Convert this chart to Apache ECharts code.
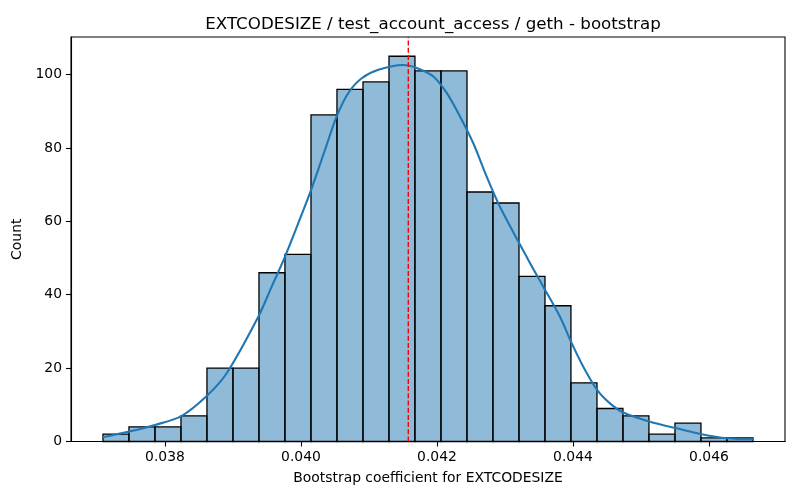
<!DOCTYPE html>
<html>
<head>
<meta charset="utf-8">
<script src="https://cdn.jsdelivr.net/npm/echarts@6/dist/echarts.min.js"></script>
<style>
html,body{margin:0;padding:0;background:#fff;}
#chart{width:800px;height:500px;}
</style>
</head>
<body>
<div id="chart"></div>
<script>
// Histogram bin edges (25 bins)
const binEdges = [0.037088,0.037470,0.037853,0.038235,0.038617,0.039000,0.039382,0.039764,
  0.040147,0.040529,0.040912,0.041294,0.041676,0.042059,0.042441,0.042823,0.043206,0.043588,
  0.043970,0.044353,0.044735,0.045117,0.045500,0.045882,0.046264,0.046647];
// Counts per bin
const counts = [2,4,4,7,20,20,46,51,89,96,98,105,101,101,68,65,45,37,16,9,7,2,5,1,1];
// KDE curve (x, count-scaled density)
const kdeX = [0.037084,0.037475,0.037853,0.038246,0.038613,0.038907,0.039372,0.039569,0.039765,
  0.039960,0.040157,0.040353,0.040525,0.040696,0.040893,0.041137,0.041504,0.041701,0.041946,
  0.042143,0.042338,0.042534,0.042731,0.042926,0.043343,0.043563,0.043809,0.043981,0.044151,
  0.044357,0.044544,0.044740,0.045132,0.045525,0.045893,0.046260,0.046651];
const kdeY = [1.15,2.7,4.5,7.0,12.4,18.6,34.0,42.2,50.4,
  59.5,69.0,79.5,88.6,95.0,99.0,101.3,102.6,101.8,99.5,
  95,88.6,81.3,72.2,64,49.5,42.2,34,26.8,20.4,
  14,10.4,7.9,5.4,3.6,2.0,0.9,0.6];
// Reference (point estimate) line
const refValue = 0.041578;
// Axis ticks
const xTicks = [0.038,0.040,0.042,0.044,0.046];
const yTicks = [0,20,40,60,80,100];
const xRange = [0.0366176, 0.047118];
const yRange = [0, 110.25];
const titleText = 'EXTCODESIZE / test_account_access / geth - bootstrap';
const xLabel = 'Bootstrap coefficient for EXTCODESIZE';
const yLabel = 'Count';

const histData = counts.map((c, i) => [binEdges[i], binEdges[i + 1], c]);
const kdeData = kdeX.map((x, i) => [x, kdeY[i]]);

const font = 'DejaVu Sans';
const chart = echarts.init(document.getElementById('chart'), null, {renderer: 'canvas'});
chart.setOption({
  animation: false,
  backgroundColor: '#ffffff',
  title: {
    text: titleText,
    left: 428,
    textAlign: 'center',
    top: 11,
    textStyle: {fontFamily: font, fontSize: 16.7, fontWeight: 'normal', color: '#000'}
  },
  grid: {
    left: 71, right: 15, top: 37, bottom: 58.5,
    show: true, borderColor: '#000', borderWidth: 1.1, backgroundColor: 'transparent'
  },
  xAxis: {
    type: 'value',
    min: xRange[0], max: xRange[1],
    name: xLabel, nameLocation: 'middle', nameGap: 30,
    nameTextStyle: {fontFamily: font, fontSize: 13.9, color: '#000'},
    axisLine: {show: true, lineStyle: {color: '#000', width: 1.1}},
    axisTick: {show: true, length: 5, lineStyle: {color: '#000', width: 1.1}, customValues: xTicks},
    axisLabel: {fontFamily: font, fontSize: 13.9, color: '#000', margin: 9,
      customValues: xTicks, formatter: v => v.toFixed(3)},
    splitLine: {show: false}
  },
  yAxis: {
    type: 'value',
    min: yRange[0], max: yRange[1],
    name: yLabel, nameLocation: 'middle', nameGap: 37,
    nameTextStyle: {fontFamily: font, fontSize: 13.9, color: '#000'},
    axisLine: {show: true, lineStyle: {color: '#000', width: 1.1}},
    axisTick: {show: true, length: 5, lineStyle: {color: '#000', width: 1.1}, customValues: yTicks},
    axisLabel: {fontFamily: font, fontSize: 13.9, color: '#000', margin: 9,
      customValues: yTicks, formatter: v => String(v)},
    splitLine: {show: false}
  },
  series: [
    {
      type: 'custom',
      data: histData,
      encode: {x: [0, 1], y: 2},
      renderItem: function (params, api) {
        const p0 = api.coord([api.value(0), api.value(2)]);
        const p1 = api.coord([api.value(1), 0]);
        return {
          type: 'rect',
          shape: {x: p0[0], y: p0[1], width: p1[0] - p0[0], height: p1[1] - p0[1]},
          style: {fill: 'rgba(31,119,180,0.5)', stroke: '#000', lineWidth: 1.3}
        };
      },
      z: 2
    },
    {
      type: 'line',
      data: kdeData,
      smooth: 0.3,
      symbol: 'none',
      lineStyle: {color: '#1f77b4', width: 2.1},
      z: 3
    },
    {
      type: 'line',
      data: [[refValue, yRange[0]], [refValue, yRange[1]]],
      symbol: 'none',
      lineStyle: {color: '#ff0000', width: 1.4, type: [5, 2.2]},
      z: 4
    }
  ]
});
</script>
</body>
</html>
